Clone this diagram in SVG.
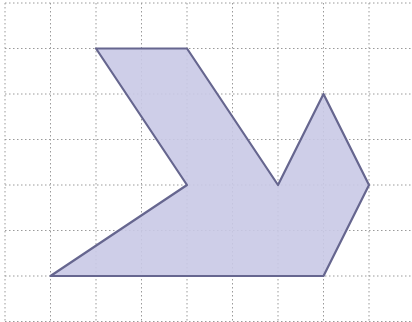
<svg xmlns="http://www.w3.org/2000/svg" width="412" height="322" viewBox="0 0 412 322">
<style>
.g{stroke:#9a9a9a;stroke-width:1;stroke-dasharray:1.5 2.5;fill:none}
.s{fill:#c9c9e6;stroke:#66668f;stroke-width:2.2;stroke-linejoin:round}
</style>
<rect width="412" height="322" fill="#fff"/>
<g id="grid">
<path class="g" d="M5 3V322M50.5 3V322M96 3V322M141.5 3V322M187 3V322M232.5 3V322M278 3V322M323.5 3V322M369 3V322"/>
<path class="g" d="M5 3H412M5 48.5H412M5 94H412M5 139.5H412M5 185H412M5 230.5H412M5 276H412M5 321.5H412"/>
</g>
<g id="shape">
<polygon class="s" fill-opacity="0.9" points="96,48.5 187,48.5 278,185 323.5,94 369,185 323.5,276 50.5,276 187,185"/>
</g>
</svg>
